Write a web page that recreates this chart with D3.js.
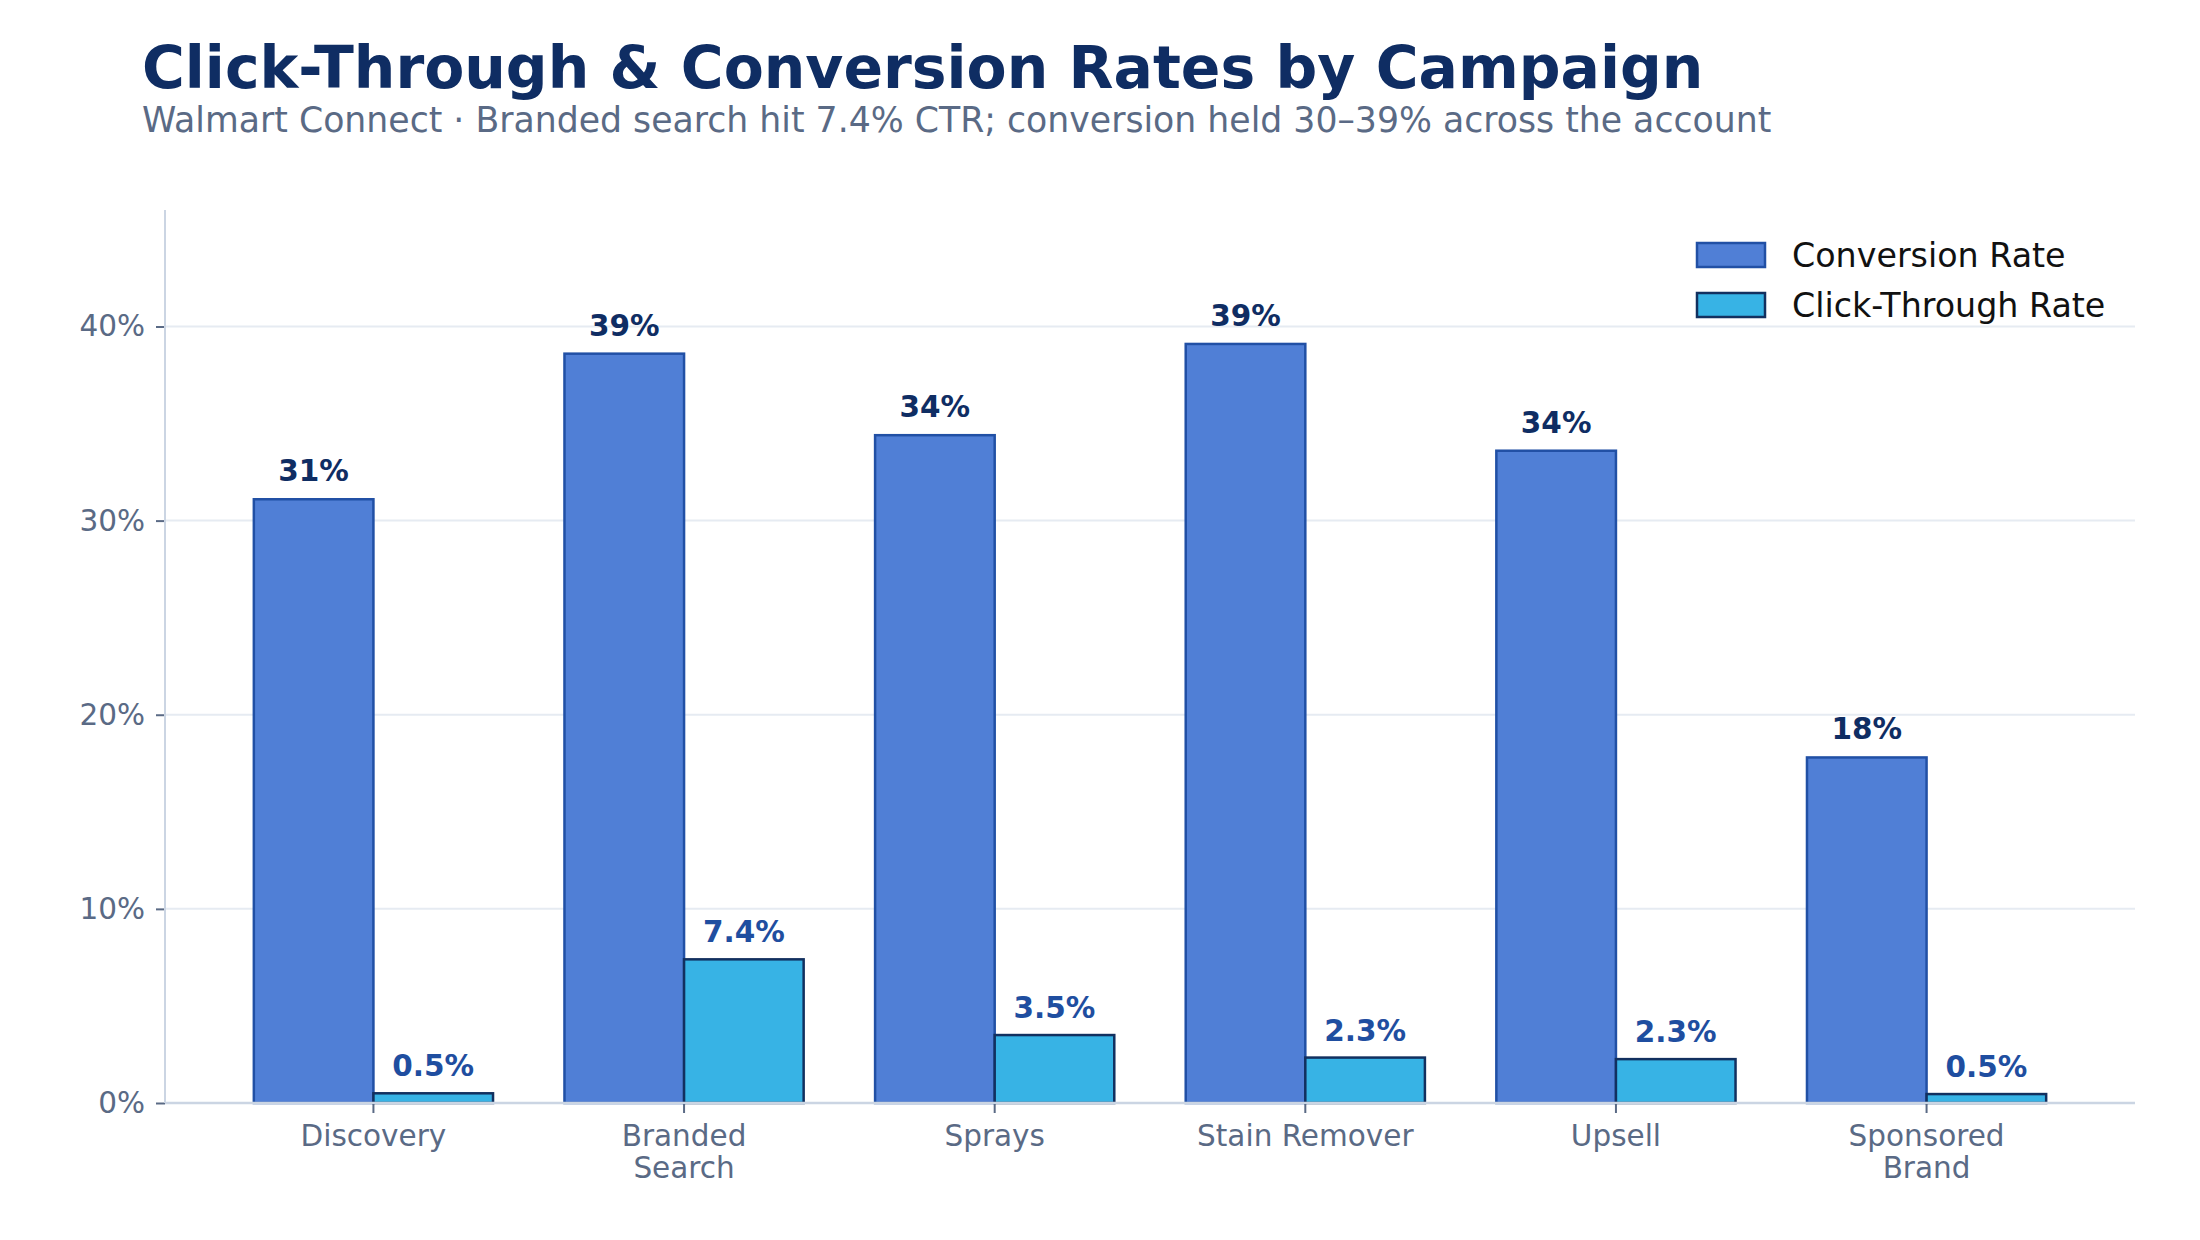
<!DOCTYPE html>
<html>
<head>
<meta charset="utf-8">
<script src="https://cdn.jsdelivr.net/npm/d3@7"></script>
<style>
  html, body { margin: 0; padding: 0; background: #ffffff; }
  svg { display: block; font-family: "DejaVu Sans", sans-serif; }
</style>
</head>
<body>
<script>
(function(){

    var campaigns = ["Discovery", "Branded\nSearch", "Sprays", "Stain Remover", "Upsell", "Sponsored\nBrand"];
    var conversionRate = [31.1, 38.6, 34.4, 39.1, 33.6, 17.8];
    var clickThroughRate = [0.5, 7.4, 3.5, 2.34, 2.26, 0.46];
    var yTicks = [0, 10, 20, 30, 40];
    var seriesNames = ["Conversion Rate", "Click-Through Rate"];

    var width = 2200,
        height = 1240;

    var margin = {left: 165, right: 65, top: 210, bottom: 137};

    var svg = d3.select("body")
        .append("svg")
        .attr("width", width)
        .attr("height", height);

    // title block
    svg.append("text")
        .attr("x", 142)
        .attr("y", 88)
        .style("font-size", "58.4px")
        .style("font-weight", "bold")
        .style("fill", "#0F2D63")
        .text("Click-Through & Conversion Rates by Campaign");

    svg.append("text")
        .attr("x", 142)
        .attr("y", 132)
        .style("font-size", "34.7px")
        .style("fill", "#5A6A85")
        .text("Walmart Connect \u00B7 Branded search hit 7.4% CTR; conversion held 30\u201339% across the account");

    var x = d3.scalePoint()
        .domain(d3.range(campaigns.length))
        .range([margin.left, width - margin.right])
        .padding(0.671);

    var y = d3.scaleLinear()
        .domain([0, 46])
        .range([height - margin.bottom, margin.top]);

    var barW = x.step() * 0.385;

    // gridlines
    svg.append("g")
        .selectAll("line")
        .data(yTicks.slice(1))
        .enter()
        .append("line")
        .attr("x1", margin.left)
        .attr("x2", width - margin.right)
        .attr("y1", function(d){ return y(d); })
        .attr("y2", function(d){ return y(d); })
        .style("stroke", "#E6EBF2")
        .style("stroke-width", 2);

    // y axis
    var yAxis = d3.axisLeft(y)
        .tickValues(yTicks)
        .tickSize(9)
        .tickPadding(11)
        .tickFormat(function(d){ return d + "%"; });

    var gy = svg.append("g")
        .attr("transform", "translate(" + margin.left + ",0)")
        .call(yAxis);
    gy.select(".domain").remove();
    gy.selectAll(".tick line").style("stroke", "#5A6A85").style("stroke-width", 2);
    gy.selectAll(".tick text")
        .style("font-size", "29.5px")
        .style("fill", "#5A6A85")
        .style("font-family", "DejaVu Sans");

    // bars
    svg.append("g")
        .selectAll(".conv")
        .data(conversionRate)
        .enter()
        .append("rect")
        .attr("class", "conv")
        .attr("x", function(d, i){ return x(i) - barW; })
        .attr("y", function(d){ return y(d); })
        .attr("width", barW)
        .attr("height", function(d){ return y(0) - y(d); })
        .style("fill", "#507FD6")
        .style("stroke", "#2150A5")
        .style("stroke-width", 2.5);

    svg.append("g")
        .selectAll(".ctr")
        .data(clickThroughRate)
        .enter()
        .append("rect")
        .attr("class", "ctr")
        .attr("x", function(d, i){ return x(i); })
        .attr("y", function(d){ return y(d); })
        .attr("width", barW)
        .attr("height", function(d){ return y(0) - y(d); })
        .style("fill", "#37B3E5")
        .style("stroke", "#12305F")
        .style("stroke-width", 2.5);

    // value labels
    svg.append("g")
        .selectAll("text")
        .data(conversionRate)
        .enter()
        .append("text")
        .attr("x", function(d, i){ return x(i) - barW / 2; })
        .attr("y", function(d){ return y(d) - 18; })
        .attr("text-anchor", "middle")
        .style("font-size", "29.5px")
        .style("font-weight", "bold")
        .style("fill", "#0F2D63")
        .text(function(d){ return Math.round(d) + "%"; });

    svg.append("g")
        .selectAll("text")
        .data(clickThroughRate)
        .enter()
        .append("text")
        .attr("x", function(d, i){ return x(i) + barW / 2; })
        .attr("y", function(d){ return y(d) - 17; })
        .attr("text-anchor", "middle")
        .style("font-size", "29.5px")
        .style("font-weight", "bold")
        .style("fill", "#1F4EA0")
        .text(function(d){ return d.toFixed(1) + "%"; });

    // axis lines
    svg.append("line")
        .attr("x1", margin.left).attr("x2", margin.left)
        .attr("y1", margin.top).attr("y2", y(0))
        .style("stroke", "#CBD5E3").style("stroke-width", 2);
    svg.append("line")
        .attr("x1", margin.left).attr("x2", width - margin.right)
        .attr("y1", y(0)).attr("y2", y(0))
        .style("stroke", "#CBD5E3").style("stroke-width", 2.5);

    // x ticks and labels
    var gx = svg.append("g");
    campaigns.forEach(function(name, i){
        gx.append("line")
            .attr("x1", x(i)).attr("x2", x(i))
            .attr("y1", y(0) + 1).attr("y2", y(0) + 10)
            .style("stroke", "#5A6A85").style("stroke-width", 2);
        var t = gx.append("text")
            .attr("x", x(i))
            .attr("y", y(0) + 43)
            .attr("text-anchor", "middle")
            .style("font-size", "29.5px")
            .style("fill", "#5A6A85");
        name.split("\n").forEach(function(line, k){
            t.append("tspan")
                .attr("x", x(i))
                .attr("dy", k === 0 ? 0 : 32)
                .text(line);
        });
    });

    // legend
    var legendFill = ["#507FD6", "#37B3E5"],
        legendStroke = ["#2150A5", "#12305F"];
    var legend = svg.append("g");
    seriesNames.forEach(function(name, i){
        legend.append("rect")
            .attr("x", 1697)
            .attr("y", 243 + i * 50)
            .attr("width", 68)
            .attr("height", 24)
            .style("fill", legendFill[i])
            .style("stroke", legendStroke[i])
            .style("stroke-width", 2.5);
        legend.append("text")
            .attr("x", 1792)
            .attr("y", 267 + i * 50)
            .style("font-size", "33.3px")
            .style("fill", "#111111")
            .text(name);
    });

})();
</script>
</body>
</html>
